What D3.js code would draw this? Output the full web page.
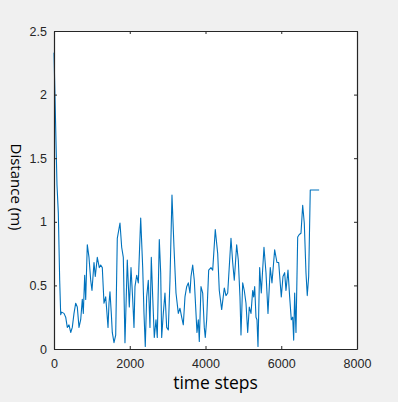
<!DOCTYPE html>
<html>
<head>
<meta charset="utf-8">
<script src="https://cdn.jsdelivr.net/npm/d3@7"></script>
<style>
  body { margin: 0; background: #f0f0f0; }
  .tick text { font-family: "Liberation Sans", Arial, sans-serif; font-size: 12.5px; fill: #262626; }
</style>
</head>
<body>
<div id="chart"></div>
<script>
// time steps and distance values
const steps = [0,40,79,114,150,177,203,264,309,351,396,441,483,528,573,615,660,705,747,774,810,837,879,924,969,1003,1056,1090,1143,1196,1233,1275,1320,1365,1391,1426,1452,1478,1513,1539,1584,1629,1671,1742,1787,1830,1874,1935,1988,2033,2078,2112,2138,2183,2226,2289,2342,2376,2410,2447,2490,2534,2569,2606,2648,2693,2727,2780,2817,2843,2886,2930,2975,3018,3062,3115,3168,3221,3282,3326,3371,3414,3458,3503,3546,3590,3617,3662,3704,3749,3775,3810,3836,3881,3926,3968,3994,4031,4084,4145,4190,4258,4322,4364,4427,4496,4541,4586,4673,4718,4760,4823,4866,4910,4937,4982,5024,5069,5114,5156,5201,5246,5272,5299,5333,5359,5386,5430,5473,5544,5597,5650,5710,5755,5826,5887,5932,6001,6046,6090,6125,6178,6222,6265,6302,6328,6354,6389,6434,6476,6521,6566,6608,6653,6687,6724,6766,7000];
const distance = [2.33,1.80,1.29,1.07,0.54,0.27,0.29,0.28,0.25,0.17,0.19,0.13,0.17,0.28,0.36,0.33,0.17,0.23,0.39,0.28,0.58,0.39,0.82,0.72,0.54,0.46,0.68,0.57,0.72,0.64,0.66,0.64,0.36,0.41,0.31,0.17,0.36,0.45,0.28,0.13,0.05,0.11,0.87,0.99,0.80,0.72,0.05,0.70,0.33,0.64,0.39,0.17,0.49,0.58,0.52,1.03,0.64,0.28,0.02,0.41,0.54,0.17,0.72,0.41,0.09,0.23,0.09,0.86,0.60,0.09,0.28,0.44,0.17,0.15,0.54,1.21,0.80,0.44,0.28,0.32,0.25,0.19,0.41,0.49,0.52,0.44,0.57,0.66,0.54,0.28,0.13,0.23,0.06,0.49,0.44,0.17,0.09,0.23,0.62,0.64,0.62,0.94,0.75,0.46,0.31,0.48,0.42,0.44,0.87,0.68,0.54,0.82,0.70,0.41,0.11,0.52,0.46,0.36,0.13,0.33,0.28,0.46,0.41,0.49,0.25,0.23,0.02,0.64,0.44,0.80,0.60,0.28,0.64,0.52,0.78,0.68,0.68,0.41,0.57,0.60,0.46,0.62,0.41,0.23,0.25,0.07,0.44,0.13,0.88,0.90,0.91,1.13,0.99,0.60,0.42,0.57,1.25,1.25];
const xTicks = [0,2000,4000,6000,8000];
const yTicks = [0,0.5,1,1.5,2,2.5];

const width = 398, height = 402;
const margin = {left: 54, top: 31, right: 41, bottom: 53};
const w = width - margin.left - margin.right, h = height - margin.top - margin.bottom;

const svg = d3.select("#chart").append("svg").attr("width", width).attr("height", height);
svg.append("rect").attr("width", width).attr("height", height).attr("fill", "#f0f0f0");

const g = svg.append("g").attr("transform", `translate(${margin.left},${margin.top})`);
g.append("rect").attr("width", w).attr("height", h).attr("fill", "white");

const x = d3.scaleLinear().domain([0, 8000]).range([0, w]);
const y = d3.scaleLinear().domain([0, 2.5]).range([h, 0]);

const data = steps.map((s, i) => [s, distance[i]]);

g.append("path")
  .datum(data)
  .attr("fill", "none")
  .attr("stroke", "#0072BD")
  .attr("stroke-width", 1.1)
  .attr("stroke-linejoin", "round")
  .attr("d", d3.line().x(d => x(d[0])).y(d => y(d[1])));

// axes, MATLAB style with ticks pointing inward on all sides
function styleAxis(sel) {
  sel.select(".domain").attr("stroke", "#262626").attr("stroke-width", 1.2);
  sel.selectAll(".tick line").attr("stroke", "#262626");
}
g.append("g").attr("transform", `translate(0,${h})`)
  .call(d3.axisBottom(x).tickValues(xTicks).tickSizeInner(-3).tickSizeOuter(0).tickPadding(10).tickFormat(d3.format("d")))
  .call(styleAxis);
g.append("g")
  .call(d3.axisTop(x).tickValues(xTicks).tickSizeInner(-3).tickSizeOuter(0).tickFormat(""))
  .call(styleAxis);
g.append("g")
  .call(d3.axisLeft(y).tickValues(yTicks).tickSizeInner(-3).tickSizeOuter(0).tickPadding(7).tickFormat(d => d))
  .call(styleAxis);
g.append("g").attr("transform", `translate(${w},0)`)
  .call(d3.axisRight(y).tickValues(yTicks).tickSizeInner(-3).tickSizeOuter(0).tickFormat(""))
  .call(styleAxis);

svg.append("text")
  .attr("x", 215.5).attr("y", 389)
  .attr("text-anchor", "middle")
  .attr("font-family", "'Open Sans', sans-serif").attr("font-size", 17.5)
  .attr("fill", "#000")
  .text("time steps");

svg.append("text")
  .attr("transform", `translate(11,187) rotate(90)`)
  .attr("text-anchor", "middle")
  .attr("font-family", "'Open Sans', sans-serif").attr("font-size", 15)
  .attr("fill", "#000")
  .text("Distance (m)");
</script>
</body>
</html>
